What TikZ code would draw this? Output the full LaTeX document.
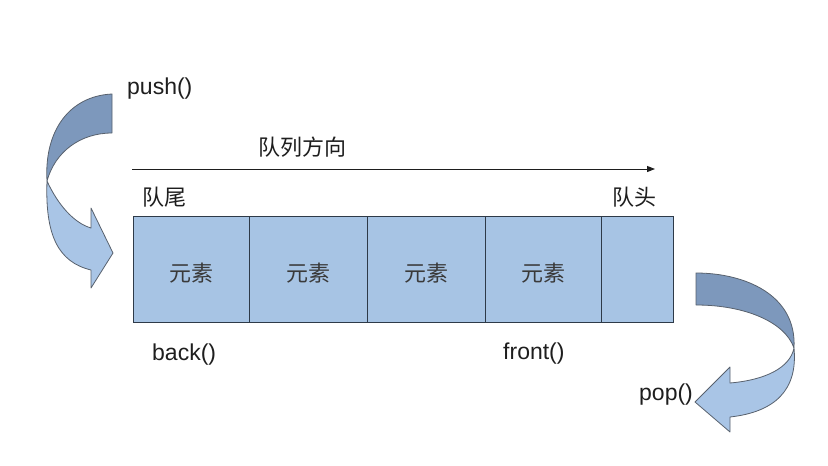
\documentclass[tikz,border=0pt]{standalone}
\usepackage{fontspec}
\setmainfont{Liberation Sans}
\newfontfamily\cjk{Noto Sans CJK SC}
\usetikzlibrary{arrows.meta}
\definecolor{boxfill}{HTML}{A7C4E4}
\definecolor{boxline}{HTML}{2E3A48}
\definecolor{arrdark}{HTML}{7D98BC}
\definecolor{arrlight}{HTML}{A9C5E6}
\definecolor{txt}{HTML}{1E1E1E}
\definecolor{cjktxt}{HTML}{3A3A3A}
\tikzset{
  cell/.style={draw=boxline, line width=1.1pt, fill=boxfill, minimum height=106pt, inner sep=0pt, anchor=north west},
  lbl/.style={text=txt, font=\fontsize{23}{26}\selectfont, inner sep=0pt, anchor=base west},
  zh/.style={text=cjktxt, font=\cjk\fontsize{22}{25}\selectfont, inner sep=0pt},
  ribbon/.style={draw=boxline!80, line width=0.8pt, line join=round}
}
\begin{document}
\begin{tikzpicture}[x=1pt,y=-1pt]
\useasboundingbox (0,0) rectangle (828,466);
% cells
\node[cell, minimum width=116pt] (c1) at (133,216) {};
\node[cell, minimum width=118pt] (c2) at (249,216) {};
\node[cell, minimum width=118pt] (c3) at (367,216) {};
\node[cell, minimum width=116pt] (c4) at (485,216) {};
\node[cell, minimum width=72pt] (c5) at (601,216) {};
\node[zh] (e1) at (191,273) {元素};
\node[zh] (e2) at (308,273) {元素};
\node[zh] (e3) at (426,273) {元素};
\node[zh] (e4) at (543,273) {元素};
% direction arrow
\coordinate (d0) at (132,169);
\coordinate (d1) at (655,169);
\draw[line width=1pt, draw=txt, -{Triangle[length=8pt,width=6pt]}] (d0) -- (d1);
\node[zh, text=txt] (dir) at (302,147) {队列方向};
\node[zh, text=txt, anchor=west] (tail) at (142,197) {队尾};
\node[zh, text=txt, anchor=west] (head) at (612,197) {队头};
% labels
\node[lbl] (push) at (127,94) {push()};
\node[lbl] (back) at (152,360) {back()};
\node[lbl] (front) at (503,359) {front()};
\node[lbl] (pop) at (639,400) {pop()};
% push ribbon arrow
\fill[arrdark] (112,94) .. controls (70,96) and (44,130) .. (47,181)
  .. controls (55,152) and (80,133) .. (112,133) -- cycle;
\draw[ribbon] (112,94) .. controls (70,96) and (44,130) .. (47,181)
  .. controls (55,152) and (80,133) .. (112,133) -- cycle;
\fill[arrlight] (47,181) .. controls (58,205) and (74,223) .. (91,228)
  -- (91,208) -- (113,253) -- (91,288) -- (91,270)
  .. controls (58,262) and (45,235) .. (47,181) -- cycle;
\draw[ribbon] (47,181) .. controls (58,205) and (74,223) .. (91,228)
  -- (91,208) -- (113,253) -- (91,288) -- (91,270)
  .. controls (58,262) and (45,235) .. (47,181) -- cycle;
% pop ribbon arrow
\fill[arrdark] (696,273) .. controls (745,273) and (797,295) .. (794,348)
  .. controls (785,322) and (745,305) .. (696,305) -- cycle;
\draw[ribbon] (696,273) .. controls (745,273) and (797,295) .. (794,348)
  .. controls (785,322) and (745,305) .. (696,305) -- cycle;
\fill[arrlight] (794,348) .. controls (790,368) and (765,380) .. (730,383)
  -- (730,367) -- (695,402) -- (730,432) -- (730,417)
  .. controls (775,412) and (798,390) .. (794,348) -- cycle;
\draw[ribbon] (794,348) .. controls (790,368) and (765,380) .. (730,383)
  -- (730,367) -- (695,402) -- (730,432) -- (730,417)
  .. controls (775,412) and (798,390) .. (794,348) -- cycle;
\end{tikzpicture}
\end{document}
